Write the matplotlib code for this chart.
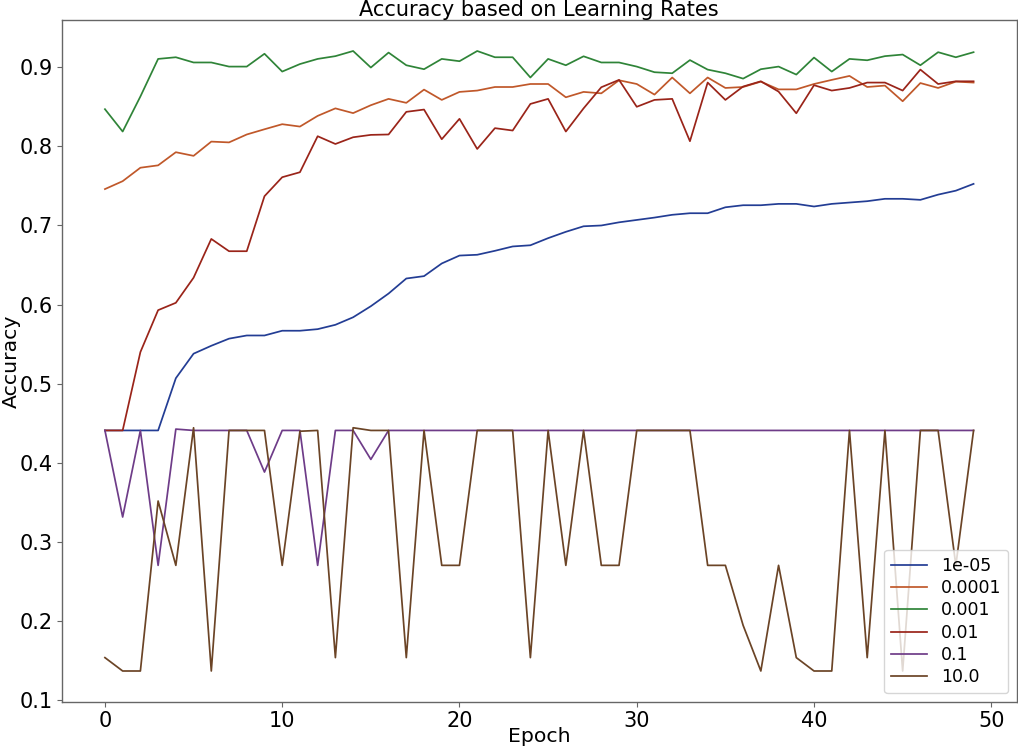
import matplotlib
matplotlib.use("Agg")
import matplotlib.pyplot as plt

epochs = list(range(50))

acc_1e_05 = [0.441, 0.441, 0.441, 0.441, 0.507, 0.538, 0.548, 0.557, 0.561, 0.561,
             0.567, 0.567, 0.569, 0.5745, 0.584, 0.598, 0.614, 0.633, 0.636, 0.652,
             0.662, 0.663, 0.668, 0.6735, 0.675, 0.684, 0.692, 0.699, 0.700, 0.704,
             0.707, 0.710, 0.7135, 0.7155, 0.7155, 0.723, 0.7256, 0.7256, 0.7273, 0.7273,
             0.724, 0.7273, 0.729, 0.7307, 0.7337, 0.7337, 0.7324, 0.739, 0.744, 0.7526]

acc_0_0001 = [0.746, 0.756, 0.773, 0.776, 0.7926, 0.788, 0.806, 0.805, 0.815, 0.8216,
              0.828, 0.825, 0.8385, 0.848, 0.842, 0.852, 0.860, 0.855, 0.8717, 0.8587,
              0.8688, 0.8705, 0.875, 0.875, 0.8788, 0.8788, 0.862, 0.8688, 0.867, 0.8835,
              0.8788, 0.8654, 0.887, 0.867, 0.887, 0.8738, 0.875, 0.8818, 0.872, 0.872,
              0.8788, 0.884, 0.889, 0.875, 0.8768, 0.857, 0.880, 0.8738, 0.8818, 0.8806]

acc_0_001 = [0.847, 0.8187, 0.863, 0.9105, 0.9126, 0.906, 0.906, 0.9008, 0.9008, 0.917,
             0.8945, 0.904, 0.9105, 0.914, 0.9205, 0.8996, 0.9185, 0.9025, 0.8975, 0.9105,
             0.9076, 0.9205, 0.9126, 0.9126, 0.887, 0.9105, 0.9025, 0.9138, 0.906, 0.906,
             0.9008, 0.8937, 0.8924, 0.909, 0.897, 0.8924, 0.8856, 0.8975, 0.9008, 0.8907,
             0.9122, 0.8945, 0.9105, 0.9088, 0.914, 0.916, 0.9025, 0.919, 0.9126, 0.919]

acc_0_01 = [0.441, 0.441, 0.540, 0.593, 0.6023, 0.634, 0.683, 0.6675, 0.6675, 0.737,
            0.761, 0.7673, 0.8128, 0.803, 0.8115, 0.8145, 0.815, 0.8436, 0.8465, 0.809,
            0.8348, 0.7967, 0.823, 0.820, 0.8536, 0.860, 0.8187, 0.848, 0.8747, 0.884,
            0.850, 0.8587, 0.860, 0.8065, 0.8806, 0.8587, 0.8756, 0.8822, 0.8692, 0.8418,
            0.8773, 0.8705, 0.8738, 0.8806, 0.8806, 0.8705, 0.897, 0.8788, 0.8822, 0.8822]

acc_0_1 = [0.441, 0.3316, 0.441, 0.2705, 0.4427, 0.441, 0.441, 0.441, 0.441, 0.3884,
           0.441, 0.441, 0.2705, 0.441, 0.441, 0.4044, 0.441, 0.441, 0.441, 0.441,
           0.441, 0.441, 0.441, 0.441, 0.441, 0.441, 0.441, 0.441, 0.441, 0.441,
           0.441, 0.441, 0.441, 0.441, 0.441, 0.441, 0.441, 0.441, 0.441, 0.441,
           0.441, 0.441, 0.441, 0.441, 0.441, 0.441, 0.441, 0.441, 0.441, 0.441]

acc_10_0 = [0.1539, 0.137, 0.137, 0.3518, 0.2705, 0.4444, 0.137, 0.441, 0.441, 0.441,
            0.2705, 0.440, 0.441, 0.1539, 0.4444, 0.441, 0.441, 0.1539, 0.441, 0.2705,
            0.2705, 0.441, 0.441, 0.441, 0.1539, 0.441, 0.2705, 0.441, 0.2705, 0.2705,
            0.441, 0.441, 0.441, 0.441, 0.2705, 0.2705, 0.1947, 0.137, 0.2705, 0.1539,
            0.137, 0.137, 0.441, 0.1539, 0.441, 0.137, 0.441, 0.441, 0.2705, 0.441]

labels = ["1e-05", "0.0001", "0.001", "0.01", "0.1", "10.0"]
series = [acc_1e_05, acc_0_0001, acc_0_001, acc_0_01, acc_0_1, acc_10_0]
colors = ["#233d94", "#c0582a", "#2f8438", "#9a2419", "#6e3c88", "#6b4426"]

fig = plt.figure(figsize=(10.18, 7.46), dpi=100)
ax = fig.add_axes([61.5 / 1018, 1 - 702 / 746, (1017 - 61.5) / 1018, (702 - 20) / 746])

for lab, ys, c in zip(labels, series, colors):
    ax.plot(epochs, ys, color=c, lw=1.25, label=lab)

ax.set_title("Accuracy based on Learning Rates", fontsize=15, pad=3)
ax.set_xlabel("Epoch", fontsize=14.7)
ax.set_ylabel("Accuracy", fontsize=14.7)
ax.xaxis.set_label_coords(0.5, -0.036)
ax.yaxis.set_label_coords(-0.043, 0.5)
ax.tick_params(labelsize=15, color="#666666", width=0.8, length=3.5, pad=3)
for s in ax.spines.values():
    s.set_color("#666666")
    s.set_linewidth(1.0)

leg = ax.legend(loc="lower right", fontsize=12.5, framealpha=0.8,
                handlelength=2.05, handletextpad=0.8, labelspacing=0.25)

fig.savefig("out.png", dpi=100)
